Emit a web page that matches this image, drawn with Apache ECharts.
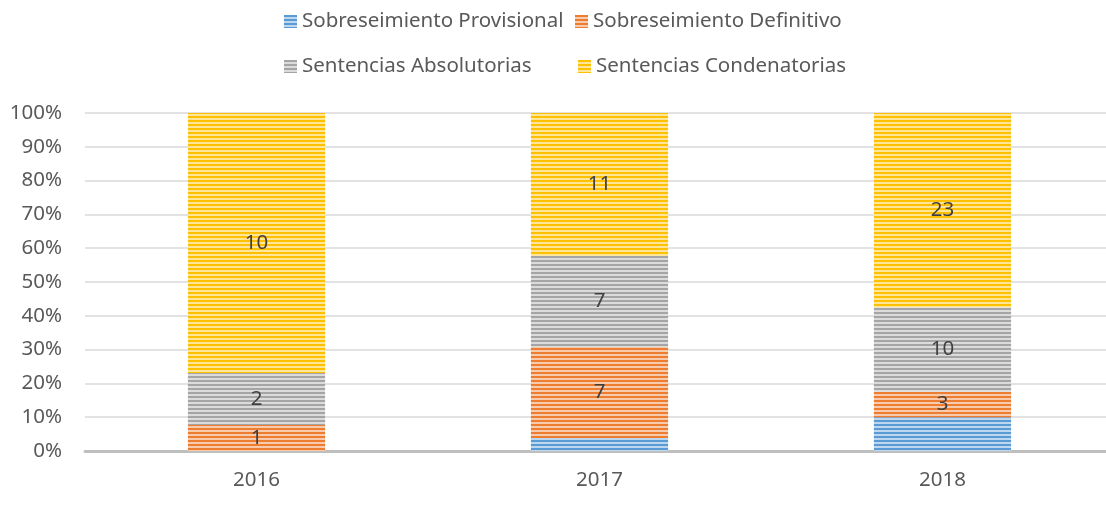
<!DOCTYPE html>
<html>
<head>
<meta charset="utf-8">
<script src="https://cdn.jsdelivr.net/npm/echarts@6/dist/echarts.min.js"></script>
<style>
  html, body { margin: 0; padding: 0; background: #fff; }
  #chart { width: 1106px; height: 508px; }
</style>
</head>
<body>
<div id="chart"></div>
<script>
// categories and raw counts per series
const years = ['2016', '2017', '2018'];
const provisional = [0, 1, 4];
const definitivo = [1, 7, 3];
const absolutorias = [2, 7, 10];
const condenatorias = [10, 11, 23];
const seriesNames = ['Sobreseimiento Provisional', 'Sobreseimiento Definitivo', 'Sentencias Absolutorias', 'Sentencias Condenatorias'];
const yTicks = [0, 10, 20, 30, 40, 50, 60, 70, 80, 90, 100];

const FONT = 'Noto Sans';
const FS = 20.5;

// horizontal stripes, like the Excel pattern fill
function stripes(dark, light) {
  const c = document.createElement('canvas');
  c.width = 4; c.height = 4;
  const ctx = c.getContext('2d');
  ctx.fillStyle = light;
  ctx.fillRect(0, 0, 4, 4);
  ctx.fillStyle = dark;
  ctx.fillRect(0, 0, 4, 2);
  return { image: c, repeat: 'repeat' };
}

const fills = [
  stripes('#5B9BD5', '#BDD7EE'),
  stripes('#ED7D31', '#F8CBAD'),
  stripes('#A5A5A5', '#DBDBDB'),
  stripes('#FFC000', '#FFE699')
];

const counts = [provisional, definitivo, absolutorias, condenatorias];
const totals = years.map((y, i) => counts.reduce((s, arr) => s + arr[i], 0));

const series = counts.map((arr, k) => ({
  name: seriesNames[k],
  type: 'bar',
  stack: 'total',
  barWidth: '40%',
  itemStyle: { color: fills[k] },
  label: {
    show: k > 0,
    position: 'inside',
    fontFamily: FONT,
    fontSize: FS,
    color: '#404040',
    formatter: p => (p.data.raw > 0 ? p.data.raw : '')
  },
  data: arr.map((v, i) => ({ value: v / totals[i] * 100, raw: v }))
}));

function legendAt(name, left, top) {
  return {
    data: [name],
    left: left,
    top: top,
    icon: 'rect',
    itemWidth: 13,
    itemHeight: 13,
    itemGap: 0,
    textStyle: { fontFamily: FONT, fontSize: FS, color: '#595959' }
  };
}

const chart = echarts.init(document.getElementById('chart'));
chart.setOption({
  animation: false,
  legend: [
    legendAt(seriesNames[0], 279, 6),
    legendAt(seriesNames[1], 570, 6),
    legendAt(seriesNames[2], 279, 51),
    legendAt(seriesNames[3], 573, 51)
  ],
  grid: { left: 85, top: 113, width: 1029, bottom: 57, outerBoundsMode: 'none' },
  xAxis: {
    type: 'category',
    data: years,
    axisLine: { lineStyle: { color: '#BFBFBF', width: 3 } },
    axisTick: { show: false },
    axisLabel: { fontFamily: FONT, fontSize: FS, color: '#595959', margin: 19 }
  },
  yAxis: {
    type: 'value',
    min: yTicks[0],
    max: yTicks[yTicks.length - 1],
    interval: 10,
    axisLine: { show: false },
    axisTick: { show: false },
    axisLabel: { fontFamily: FONT, fontSize: FS, color: '#595959', margin: 23, formatter: '{value}%' },
    splitLine: { lineStyle: { color: '#D9D9D9', width: 1.5 } }
  },
  series: series
});
</script>
</body>
</html>
